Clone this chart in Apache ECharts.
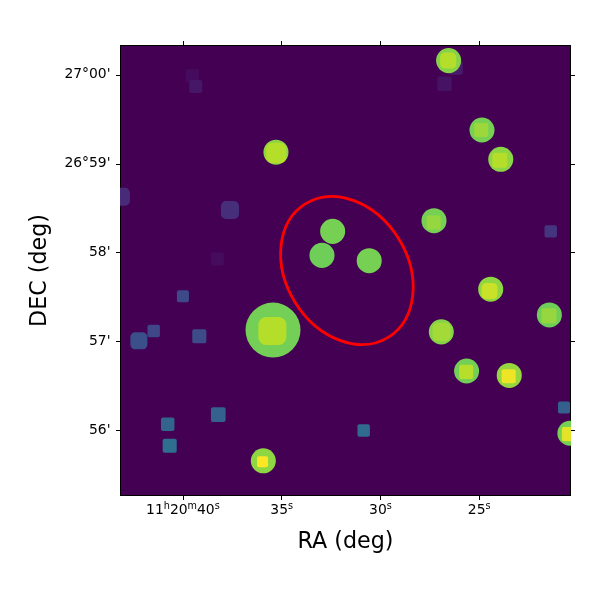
<!DOCTYPE html>
<html>
<head>
<meta charset="utf-8">
<style>html,body{margin:0;padding:0;background:#fff}#c{width:600px;height:600px}</style>
<script src="https://cdn.jsdelivr.net/npm/echarts@6/dist/echarts.min.js"></script>
</head>
<body>
<div id="c"></div>
<script>
// RA tick values (seconds of 11h20m) and Dec tick values (arcmin above 26 deg)
var raTicks = [40, 35, 30, 25];
var raTickLabels = ['{n|11}{u|h}{n|20}{u|m}{n|40}{u|s}', '{n|35}{u|s}', '{n|30}{u|s}', '{n|25}{u|s}'];
var decTicks = [60, 59, 58, 57, 56];
var decTickLabels = ["27°00'", "26°59'", "58'", "57'", "56'"];

// Field sources (drawn beneath the apertures): RA s, Dec arcmin, level, width arcsec
var fieldRa = [26.19, 26.76, 21.38, 39.52, 39.35, 43.14, 37.62, 38.26, 40.00, 41.48, 39.17, 42.23, 38.21, 40.77, 40.67, 30.85, 20.71];
var fieldDec = [60.08, 59.90, 58.24, 59.99, 59.87, 58.63, 58.48, 57.93, 57.51, 57.12, 57.06, 57.01, 56.18, 56.07, 55.83, 56.00, 56.26];
var fieldLevel = [0.07, 0.05, 0.15, 0.03, 0.06, 0.12, 0.13, 0.03, 0.222, 0.215, 0.23, 0.245, 0.31, 0.32, 0.36, 0.34, 0.30];
var fieldWidth = [9.5, 9.8, 8.4, 8.8, 8.8, 12.2, 12.2, 8.8, 8.1, 8.4, 9.5, 11.5, 9.9, 9.1, 9.5, 8.4, 8.1];

// Apertures
var apRa = [35.29, 32.42, 32.96, 26.55, 24.86, 23.91, 27.29, 30.57, 35.44, 35.93, 24.42, 21.45, 26.92, 25.64, 23.48, 20.41];
var apDec = [59.13, 58.24, 57.97, 60.16, 59.38, 59.05, 58.36, 57.91, 57.13, 55.66, 57.59, 57.30, 57.11, 56.67, 56.62, 55.97];
var apLevel = [0.83, 0.79, 0.778, 0.815, 0.79, 0.825, 0.79, 0.79, 0.785, 0.83, 0.83, 0.778, 0.815, 0.785, 0.84, 0.79];
var apWidth = [16.9, 16.9, 16.9, 16.9, 16.9, 16.9, 16.9, 16.9, 37.1, 16.9, 16.9, 16.9, 16.9, 16.9, 16.9, 16.9];

// Cores (drawn above the apertures)
var coreRa = [35.28, 26.57, 24.90, 23.96, 27.31, 35.47, 35.97, 24.48, 21.47, 26.91, 25.66, 23.51, 20.46];
var coreDec = [59.12, 60.16, 59.38, 59.04, 58.34, 57.12, 55.65, 57.57, 57.29, 57.11, 56.66, 56.61, 55.96];
var coreLevel = [0.889, 0.889, 0.85, 0.889, 0.84, 0.889, 1, 0.92, 0.84, 0.86, 0.89, 0.975, 0.96];
var coreWidth = [13.5, 10.8, 9.5, 10.1, 9.5, 18.9, 7.4, 10.8, 10.1, 12.2, 9.5, 9.5, 9.5];

// Red region: centre RA s, centre Dec arcmin, semi-axes arcsec, tilt deg
var regionRa = [31.70];
var regionDec = [57.80];
var regionMajor = [53];
var regionMinor = [41];
var regionTilt = [58];

var viridis = ['#440154','#482878','#3e4989','#31688e','#26828e','#1f9e89','#35b779','#6ece58','#b5de2b','#fde725'];
var font = '"DejaVu Sans"';

function zip(a, b, c, d) { return a.map(function (v, i) { return [v, b[i], c[i], d[i]]; }); }
function lookup(vals, labels) {
  return function (v) { var i = vals.indexOf(v); return i < 0 ? '' : labels[i]; };
}
var xMin = 20.38, xMax = 43.16, yMin = 55.27, yMax = 60.33;
var line = { show: true, lineStyle: { color: '#000', width: 1 } };
function xAxis(pos, main) {
  return {
    type: 'value', position: pos, inverse: true, min: xMin, max: xMax, scale: true,
    name: main ? 'RA (deg)' : '', nameLocation: 'middle', nameGap: 36,
    nameTextStyle: { fontFamily: font, fontSize: 22.2, color: '#000' },
    axisLine: Object.assign({ onZero: false }, line),
    axisTick: { show: true, length: 4.5, inside: false, lineStyle: { color: '#000', width: 1 }, customValues: raTicks },
    axisLabel: {
      show: main, customValues: raTicks, margin: 6, formatter: lookup(raTicks, raTickLabels),
      rich: {
        n: { fontFamily: font, fontSize: 13.9, color: '#000', lineHeight: 18 },
        u: { fontFamily: font, fontSize: 9.7, color: '#000', verticalAlign: 'top', lineHeight: 16, padding: [0, 0, 5, 0] }
      }
    },
    splitLine: { show: false }
  };
}
function yAxis(pos, main) {
  return {
    type: 'value', position: pos, min: yMin, max: yMax, scale: true,
    name: main ? 'DEC (deg)' : '', nameLocation: 'middle', nameGap: 69,
    nameTextStyle: { fontFamily: font, fontSize: 22.2, color: '#000' },
    axisLine: Object.assign({ onZero: false }, line),
    axisTick: { show: true, length: 4.5, inside: false, lineStyle: { color: '#000', width: 1 }, customValues: decTicks },
    axisLabel: {
      show: main, customValues: decTicks, margin: 10, formatter: lookup(decTicks, decTickLabels),
      fontFamily: font, fontSize: 13.9, color: '#000'
    },
    splitLine: { show: false }
  };
}
// Marks are custom series so that overflow is clipped at the axes
function marks(data, round, z) {
  return {
    type: 'custom', data: data, z: z, clip: true, silent: true, animation: false,
    coordinateSystem: 'cartesian2d', encode: { x: 0, y: 1 },
    renderItem: function (params, api) {
      var p = api.coord([api.value(0), api.value(1)]);
      var k = api.size([0, 1])[1] / 60;
      var w = api.value(3) * k;
      var fill = api.visual('color');
      if (round) {
        return { type: 'circle', shape: { cx: p[0], cy: p[1], r: w / 2 }, style: { fill: fill } };
      }
      return {
        type: 'rect',
        shape: { x: p[0] - w / 2, y: p[1] - w / 2, width: w, height: w, r: w > 16 ? w * 0.28 : 2 },
        style: { fill: fill }
      };
    }
  };
}

var chart = echarts.init(document.getElementById('c'), null, { renderer: 'canvas' });
chart.setOption({
  animation: false,
  backgroundColor: '#fff',
  grid: { left: 120.5, top: 45.5, width: 450, height: 450, show: true, backgroundColor: '#440154', borderWidth: 0 },
  xAxis: [xAxis('bottom', true), xAxis('top', false)],
  yAxis: [yAxis('left', true), yAxis('right', false)],
  visualMap: { show: false, type: 'continuous', min: 0, max: 1, dimension: 2, seriesIndex: [0, 1, 2], inRange: { color: viridis } },
  series: [
    marks(zip(fieldRa, fieldDec, fieldLevel, fieldWidth), false, 2),
    marks(zip(apRa, apDec, apLevel, apWidth), true, 3),
    marks(zip(coreRa, coreDec, coreLevel, coreWidth), false, 4),
    {
      type: 'custom', z: 5, silent: true, animation: false, coordinateSystem: 'cartesian2d',
      data: regionRa.map(function (r, i) { return [r, regionDec[i], regionMajor[i], regionMinor[i], regionTilt[i]]; }),
      encode: { x: 0, y: 1 },
      renderItem: function (params, api) {
        var p = api.coord([api.value(0), api.value(1)]);
        var k = api.size([0, 1])[1] / 60;
        return {
          type: 'ellipse',
          x: p[0], y: p[1], rotation: -api.value(4) * Math.PI / 180,
          shape: { cx: 0, cy: 0, rx: api.value(2) * k, ry: api.value(3) * k },
          style: { fill: 'none', stroke: '#ff0000', lineWidth: 2.8 }
        };
      }
    }
  ]
});
</script>
</body>
</html>
